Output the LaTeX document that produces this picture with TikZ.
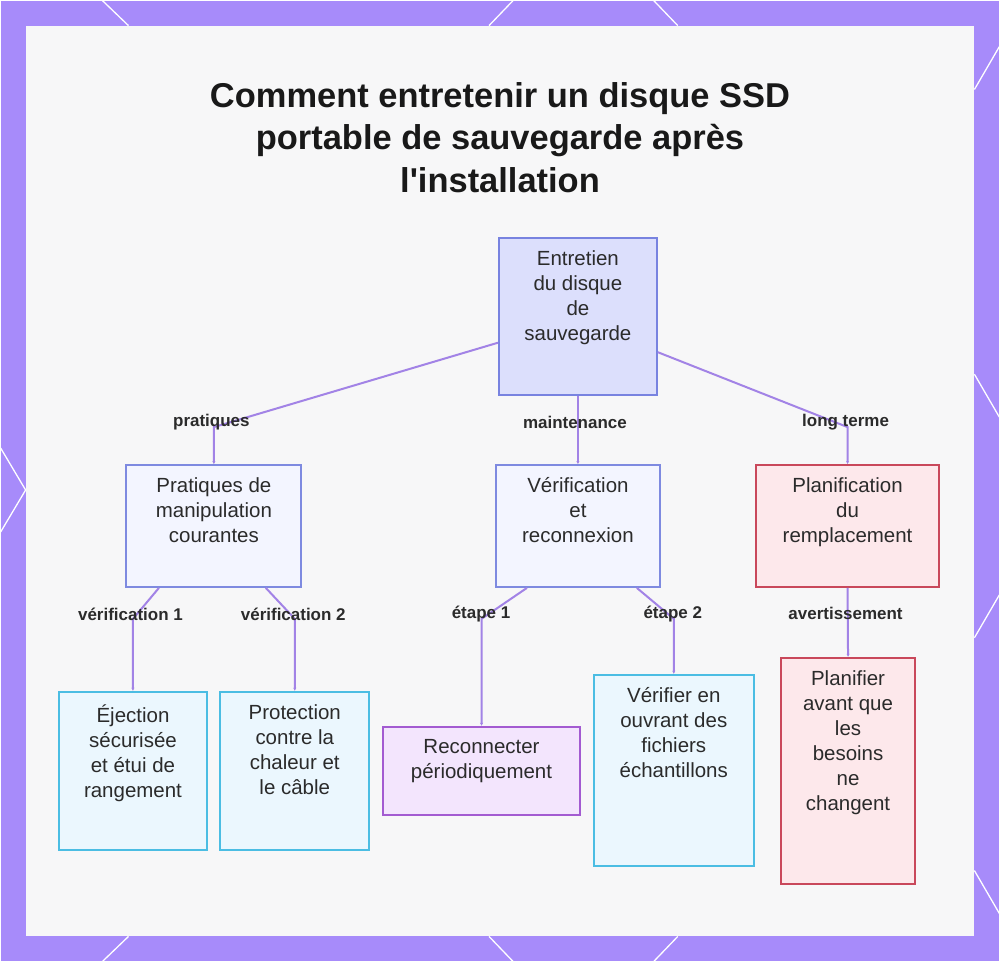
\documentclass[tikz,border=0pt]{standalone}
\usepackage{fontspec}
\setmainfont{Liberation Sans}[Ligatures=TeXOff]
\usetikzlibrary{arrows.meta}

\definecolor{bgPurple}{HTML}{A78BFA}
\definecolor{panelGray}{HTML}{F7F7F8}
\definecolor{edgeLine}{HTML}{A283E6}
\definecolor{textDark}{HTML}{2B2B2B}
\definecolor{rootFill}{HTML}{DCDFFC}
\definecolor{rootLine}{HTML}{7883E0}
\definecolor{midFill}{HTML}{F3F5FF}
\definecolor{midLine}{HTML}{7E8AE0}
\definecolor{redFill}{HTML}{FDE8EB}
\definecolor{redLine}{HTML}{C9485B}
\definecolor{cyanFill}{HTML}{EBF7FE}
\definecolor{cyanLine}{HTML}{4BBDE3}
\definecolor{violetFill}{HTML}{F3E5FD}
\definecolor{violetLine}{HTML}{A35BD1}

\begin{document}
\begin{tikzpicture}
[x=1pt,y=-1pt,
  boxDecorate/.style={draw,line width=2pt,inner sep=0pt},
  rootBox/.style={boxDecorate,draw=rootLine,fill=rootFill},
  midBox/.style={boxDecorate,draw=midLine,fill=midFill},
  redBox/.style={boxDecorate,draw=redLine,fill=redFill},
  cyanBox/.style={boxDecorate,draw=cyanLine,fill=cyanFill},
  violetBox/.style={boxDecorate,draw=violetLine,fill=violetFill},
  txtDecorate/.style={anchor=north,align=center,inner sep=0pt,text=textDark,
    font=\fontsize{20.5}{25}\selectfont,execute at begin node={\rule{0pt}{20pt}}},
  lblDecorate/.style={inner sep=0pt,text=textDark,font=\bfseries\fontsize{17}{20}\selectfont},
  lineDecorate/.style={-{Stealth[length=3pt,width=3pt]},line width=2pt,draw=edgeLine}]
%% frame
\fill[bgPurple] (0,0) rectangle (1000,962);
\foreach \xa/\ya/\xb/\yb in {102/0/128/25, 513/0/489/25, 654/0/678/25,
  128/937/102/962, 489/937/513/962, 678/937/654/962,
  0/448/25/490, 0/532/25/490,
  975/89/1000/46, 975/374/1000/417, 975/638/1000/595, 975/871/1000/914}
{
  \draw[white,line width=1.3pt] (\xa,\ya) -- (\xb,\yb);
}
\fill[panelGray] (25,25) rectangle (975,937);
%% title
\node (title) at (500,137) [align=center,text=black!90,
  font=\bfseries\fontsize{34.5}{42.5}\selectfont]
  {Comment entretenir un disque SSD\\portable de sauvegarde après\\l'installation};
%% boxes
\foreach \nodename/\cx/\cy/\w/\h/\kind in {
  root/578/316.5/158/157/rootBox,
  prat/213.5/526/175/122/midBox, verif/578/526/164/122/midBox,
  plan/848/526/184/122/redBox,
  eject/132.5/771/149/158/cyanBox, heat/294.5/771/149/158/cyanBox,
  recon/481.5/771/197/88/violetBox, sample/674/770.5/160/191/cyanBox,
  early/848.5/771/135/226/redBox}
{
  \node (\nodename) at (\cx,\cy) [\kind,minimum width=\w pt,minimum height=\h pt] {};
}
%% box texts
\foreach \nodename/\txt in {
  root/{Entretien\\du disque\\de\\sauvegarde},
  prat/{Pratiques de\\manipulation\\courantes},
  verif/{Vérification\\et\\reconnexion},
  plan/{Planification\\du\\remplacement},
  eject/{Éjection\\sécurisée\\et étui de\\rangement},
  heat/{Protection\\contre la\\chaleur et\\le câble},
  recon/{Reconnecter\\périodiquement},
  sample/{Vérifier en\\ouvrant des\\fichiers\\échantillons},
  early/{Planifier\\avant que\\les\\besoins\\ne\\changent}}
{
  \node (\nodename-txt) at ([yshift=-13.5pt]\nodename.north) [txtDecorate] {\txt};
}
%% connectors
\draw[lineDecorate] ([yshift=-26pt]root.west) -- ([yshift=37pt]prat.north) -- (prat.north);
\draw[lineDecorate] (root.south) -- (verif.north);
\draw[lineDecorate] ([yshift=-35.5pt]root.east) -- ([yshift=37pt]plan.north) -- (plan.north);
\draw[lineDecorate] ([xshift=-55pt]prat.south) -- ([yshift=72pt]eject.north) -- (eject.north);
\draw[lineDecorate] ([xshift=52pt]prat.south) -- ([yshift=72pt]heat.north) -- (heat.north);
\draw[lineDecorate] ([xshift=-51pt]verif.south) -- ([yshift=107pt]recon.north) -- (recon.north);
\draw[lineDecorate] ([xshift=59pt]verif.south) -- ([yshift=55pt]sample.north) -- (sample.north);
\draw[lineDecorate] (plan.south) -- (early.north);
%% connector labels
\foreach \nodename/\x/\y/\txt in {
  lprat/211/422/pratiques, lverif/575/422/maintenance, lplan/846/422/long terme,
  leject/130/614/vérification 1, lheat/293/614/vérification 2,
  lrecon/481/614/étape 1, lsample/673/614/étape 2, learly/846/614/avertissement}
{
  \node (\nodename) at (\x,\y) [lblDecorate] {\txt};
}
\end{tikzpicture}
\end{document}
